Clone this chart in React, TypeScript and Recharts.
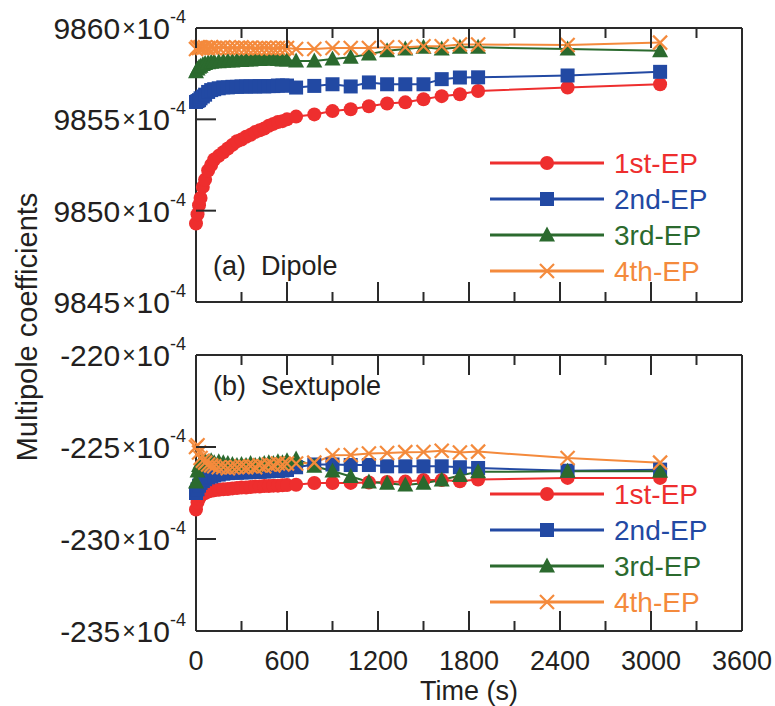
import React from "react";
import { LineChart, Line, XAxis, YAxis, Customized } from "recharts";

// elapsed time (s)
const time = [
  0, 10, 20, 30, 45, 60, 80, 100, 120, 150,
  180, 210, 240, 270, 300, 330, 360, 390, 420, 450,
  480, 510, 540, 570, 600, 660, 780, 900, 1020, 1140,
  1260, 1380, 1500, 1620, 1740, 1860, 2450, 3060,
];

// dipole, units of 1e-4
const dipole1 = [
  9849.3, 9849.8, 9850.3, 9850.7, 9851.3, 9851.7, 9852.2, 9852.5, 9852.8, 9853.0,
  9853.2, 9853.4, 9853.6, 9853.8, 9853.9, 9854.05, 9854.15, 9854.3, 9854.4, 9854.5,
  9854.65, 9854.75, 9854.85, 9854.9, 9855.0, 9855.15, 9855.27, 9855.45, 9855.55, 9855.72,
  9855.87, 9855.93, 9856.1, 9856.27, 9856.37, 9856.55, 9856.74, 9856.92,
];
const dipole2 = [
  9855.95, 9856.0, 9856.05, 9856.15, 9856.25, 9856.35, 9856.5, 9856.6, 9856.65, 9856.7,
  9856.75, 9856.75, 9856.78, 9856.78, 9856.8, 9856.8, 9856.8, 9856.8, 9856.82, 9856.8,
  9856.82, 9856.82, 9856.85, 9856.85, 9856.85, 9856.74, 9856.83, 9856.92, 9856.8, 9857.02,
  9856.92, 9856.92, 9856.92, 9857.2, 9857.29, 9857.3, 9857.4, 9857.6,
];
const dipole3 = [
  9857.6, 9857.75, 9857.85, 9857.9, 9858.0, 9858.05, 9858.1, 9858.12, 9858.15, 9858.15,
  9858.18, 9858.2, 9858.2, 9858.22, 9858.22, 9858.25, 9858.25, 9858.28, 9858.28, 9858.3,
  9858.3, 9858.3, 9858.28, 9858.25, 9858.25, 9858.2, 9858.2, 9858.3, 9858.4, 9858.57,
  9858.75, 9858.85, 9858.94, 9858.85, 9858.94, 9858.94, 9858.85, 9858.75,
];
const dipole4 = [
  9858.85, 9858.95, 9858.9, 9858.95, 9858.9, 9858.95, 9858.9, 9858.95, 9858.9, 9858.92,
  9858.95, 9858.9, 9858.92, 9858.9, 9858.95, 9858.9, 9858.92, 9858.88, 9858.9, 9858.92,
  9858.9, 9858.88, 9858.9, 9858.92, 9858.9, 9858.85, 9858.85, 9858.9, 9858.9, 9858.9,
  9858.95, 9858.95, 9859.0, 9859.0, 9859.1, 9859.1, 9859.07, 9859.2,
];

// sextupole, units of 1e-4
const sext1 = [
  -228.4, -228.0, -227.8, -227.65, -227.55, -227.5, -227.42, -227.38, -227.35, -227.32,
  -227.3, -227.28, -227.25, -227.23, -227.2, -227.2, -227.18, -227.15, -227.15, -227.12,
  -227.12, -227.1, -227.1, -227.08, -227.07, -227.05, -226.96, -226.96, -226.95, -226.93,
  -226.9, -226.88, -226.8, -226.8, -226.86, -226.77, -226.68, -226.68,
];
const sext2 = [
  -227.5, -227.3, -227.1, -226.95, -226.85, -226.75, -226.65, -226.6, -226.55, -226.5,
  -226.45, -226.42, -226.4, -226.4, -226.38, -226.38, -226.36, -226.35, -226.35, -226.33,
  -226.32, -226.3, -226.3, -226.28, -226.25, -226.1, -225.95, -225.95, -225.98, -225.98,
  -226.05, -226.05, -226.05, -226.05, -226.1, -226.14, -226.29, -226.23,
];
const sext3 = [
  -226.9, -226.3, -226.0, -225.85, -225.8, -225.75, -225.8, -225.75, -225.85, -225.8,
  -225.85, -225.9, -225.95, -226.0, -225.95, -226.0, -225.9, -226.0, -225.95, -225.9,
  -225.85, -225.9, -225.8, -225.85, -225.75, -225.65, -226.05, -226.3, -226.6, -226.9,
  -226.97, -227.07, -226.97, -226.79, -226.55, -226.35, -226.32, -226.32,
];
const sext4 = [
  -225.0, -224.9, -225.3, -225.6, -225.75, -225.85, -225.95, -226.0, -226.05, -226.1,
  -226.1, -226.15, -226.1, -226.1, -226.05, -226.1, -226.05, -226.1, -226.0, -226.05,
  -225.95, -226.0, -225.9, -225.95, -225.9, -225.9, -225.85, -225.45, -225.43, -225.35,
  -225.33, -225.28, -225.27, -225.2, -225.3, -225.25, -225.6, -225.85,
];

const seriesNames = ["1st-EP", "2nd-EP", "3rd-EP", "4th-EP"];
const colors = ["#ee2e2e", "#2249a3", "#2b6a2e", "#f48a3c"];
const markers = ["circle", "square", "triangle", "cross"];

const xTicks = [0, 300, 600, 900, 1200, 1500, 1800, 2100, 2400, 2700, 3000, 3300, 3600];
const dipoleTicks = [9845, 9850, 9855, 9860];
const sextTicks = [-235, -230, -225, -220];

const dipoleData = time.map((t, i) => ({ t, s1: dipole1[i], s2: dipole2[i], s3: dipole3[i], s4: dipole4[i] }));
const sextData = time.map((t, i) => ({ t, s1: sext1[i], s2: sext2[i], s3: sext3[i], s4: sext4[i] }));

const FONT = "'Liberation Sans', Arial, Helvetica, sans-serif";
const INK = "#231f20";
const AXIS = "#2a2a2a";

function Marker({ kind, cx, cy, color }: any) {
  if (cx == null || cy == null) return null;
  if (kind === "circle") return <circle cx={cx} cy={cy} r={7} fill={color} />;
  if (kind === "square") return <rect x={cx - 7} y={cy - 7} width={14} height={14} fill={color} />;
  if (kind === "triangle")
    return <polygon points={`${cx},${cy - 8.5} ${cx - 8},${cy + 6.5} ${cx + 8},${cy + 6.5}`} fill={color} />;
  const d = 7;
  return (
    <g stroke={color} strokeWidth={2.2}>
      <line x1={cx - d} y1={cy - d} x2={cx + d} y2={cy + d} />
      <line x1={cx - d} y1={cy + d} x2={cx + d} y2={cy - d} />
    </g>
  );
}

// ticks point into the frame; majors every 600 s
function XTick({ x, y, payload, dir, showLabel }: any) {
  const major = payload.value % 600 === 0;
  const len = major ? 20 : 10;
  return (
    <g>
      <line x1={x} x2={x} y1={y} y2={y + dir * len} stroke={AXIS} strokeWidth={2} />
      {showLabel && major && (
        <text x={x} y={y + 30} textAnchor="middle" dominantBaseline="central" fontSize={27} fontFamily={FONT} fill={INK}>
          {payload.value}
        </text>
      )}
    </g>
  );
}

function YTick({ x, y, payload, dir, showLabel, inner }: any) {
  const v = payload.value;
  const drawLine = inner.includes(v);
  return (
    <g>
      {drawLine && <line x1={x} x2={x + dir * 20} y1={y} y2={y} stroke={AXIS} strokeWidth={2} />}
      {showLabel && (
        <text x={x - 10} y={y} textAnchor="end" dominantBaseline="central" fontFamily={FONT} fill={INK}>
          <tspan fontSize={30}>{v}</tspan>
          <tspan fontSize={23} dx={2}>×</tspan>
          <tspan fontSize={30} dx={1}>10</tspan>
          <tspan fontSize={18} dy={-11}>-4</tspan>
        </text>
      )}
    </g>
  );
}

function LegendBox({ x, y }: { x: number; y: number }) {
  return (
    <g>
      {seriesNames.map((name, i) => {
        const cy = y + i * 36;
        return (
          <g key={name}>
            <line x1={x} x2={x + 114} y1={cy} y2={cy} stroke={colors[i]} strokeWidth={3.2} />
            <Marker kind={markers[i]} cx={x + 57} cy={cy} color={colors[i]} />
            <text x={x + 124} y={cy} dominantBaseline="central" fontSize={28} fontFamily={FONT} fill={colors[i]}>
              {name}
            </text>
          </g>
        );
      })}
    </g>
  );
}

function PanelTitle({ x, y, text }: { x: number; y: number; text: string }) {
  return (
    <text x={x} y={y} fontSize={27} fontFamily={FONT} fill={INK} style={{ whiteSpace: "pre" }}>
      {text}
    </text>
  );
}

function Panel({ data, domain, yTicks, height, topH, bottomH, showX, title, titleY, legendY }: any) {
  const inner = [yTicks[1], yTicks[2]];
  return (
    <LineChart width={775} height={height} data={data} margin={{ top: 0, right: 32, bottom: 0, left: 0 }}>
      <XAxis
        xAxisId="b"
        dataKey="t"
        type="number"
        domain={[0, 3600]}
        ticks={xTicks}
        interval={0}
        height={bottomH}
        tickSize={0}
        tickMargin={0}
        tickLine={false}
        axisLine={{ stroke: AXIS, strokeWidth: 2 }}
        tick={<XTick dir={-1} showLabel={showX} />}
        label={
          showX
            ? { value: "Time (s)", position: "insideBottom", offset: 6, fontSize: 27, fontFamily: FONT, fill: INK }
            : undefined
        }
      />
      <XAxis
        xAxisId="t"
        orientation="top"
        dataKey="t"
        type="number"
        domain={[0, 3600]}
        ticks={xTicks}
        interval={0}
        height={topH}
        tickSize={0}
        tickMargin={0}
        tickLine={false}
        axisLine={{ stroke: AXIS, strokeWidth: 2 }}
        tick={<XTick dir={1} showLabel={false} />}
      />
      <YAxis
        yAxisId="l"
        type="number"
        domain={domain}
        ticks={yTicks}
        interval={0}
        width={196}
        tickSize={0}
        tickMargin={0}
        tickLine={false}
        axisLine={{ stroke: AXIS, strokeWidth: 2 }}
        tick={<YTick dir={1} showLabel={true} inner={inner} />}
      />
      <YAxis
        yAxisId="r"
        orientation="right"
        type="number"
        domain={domain}
        ticks={yTicks}
        interval={0}
        width={1}
        tickSize={0}
        tickMargin={0}
        tickLine={false}
        axisLine={{ stroke: AXIS, strokeWidth: 2 }}
        tick={<YTick dir={-1} showLabel={false} inner={inner} />}
      />
      {["s1", "s2", "s3", "s4"].map((k, i) => (
        <Line
          key={k}
          xAxisId="b"
          yAxisId="l"
          dataKey={k}
          name={seriesNames[i]}
          stroke={colors[i]}
          strokeWidth={2}
          dot={<Marker kind={markers[i]} color={colors[i]} />}
          activeDot={false}
          isAnimationActive={false}
        />
      ))}
      <Customized component={<PanelTitle x={213} y={titleY} text={title} />} />
      <Customized component={<LegendBox x={490} y={legendY} />} />
    </LineChart>
  );
}

export default function App() {
  return (
    <div style={{ position: "absolute", left: 0, top: 0, width: 775, height: 706, background: "#fff" }}>
      <div style={{ position: "absolute", left: 0, top: 0 }}>
        <Panel
          data={dipoleData}
          domain={[9845, 9860]}
          yTicks={dipoleTicks}
          height={330}
          topH={28}
          bottomH={28}
          showX={false}
          title={"(a)  Dipole"}
          titleY={275}
          legendY={163}
        />
      </div>
      <div style={{ position: "absolute", left: 0, top: 330 }}>
        <Panel
          data={sextData}
          domain={[-235, -220]}
          yTicks={sextTicks}
          height={376}
          topH={25}
          bottomH={75}
          showX={true}
          title={"(b)  Sextupole"}
          titleY={65}
          legendY={164}
        />
      </div>
      <div
        style={{
          position: "absolute",
          left: 27,
          top: 327,
          transform: "translate(-50%, -50%) rotate(-90deg)",
          fontFamily: FONT,
          fontSize: 29,
          color: INK,
          whiteSpace: "nowrap",
        }}
      >
        Multipole coefficients
      </div>
    </div>
  );
}
